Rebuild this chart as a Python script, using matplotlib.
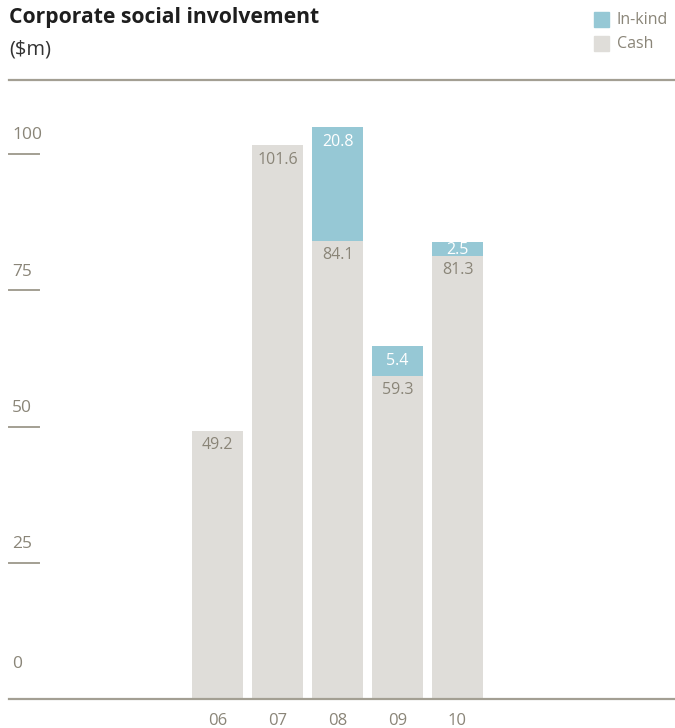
import matplotlib
matplotlib.use("Agg")
import matplotlib.pyplot as plt
from matplotlib.patches import Rectangle

years = ["06", "07", "08", "09", "10"]
cash = [49.2, 101.6, 84.1, 59.3, 81.3]
inkind = [0, 0, 20.8, 5.4, 2.5]
yticks = [0, 25, 50, 75, 100]

c_cash = "#dfddd9"
c_kind = "#96c8d5"
c_line = "#a39f93"
c_text = "#8a8578"

plt.rcParams["font.family"] = ["Open Sans", "DejaVu Sans"]

W, H = 675, 728
fig = plt.figure(figsize=(W / 100, H / 100), dpi=100)
ax = fig.add_axes([9 / W, 1 - 699 / H, 666 / W, (699 - 80) / H])
px_per_unit = 5.45
ax.set_ylim(0, (699 - 80) / px_per_unit)
ax.set_xlim(-3.475, -3.475 + 666 / 60)
ax.axis("off")

x = list(range(len(years)))
ax.bar(x, cash, width=0.85, color=c_cash, zorder=2)
ax.bar(x, inkind, bottom=cash, width=0.85, color=c_kind, zorder=2)

# baseline and top rule
ax.axhline(0, color=c_line, lw=1.6, zorder=3, clip_on=False)
ax.axhline(ax.get_ylim()[1], color=c_line, lw=1.6, zorder=3, clip_on=False)

# value labels
for i in x:
    ax.annotate(f"{cash[i]}", (i, cash[i]), xytext=(0, -10.5), textcoords="offset points",
                ha="center", va="center", fontsize=11.5, color=c_text, zorder=4)
    if inkind[i] > 0:
        top = cash[i] + inkind[i]
        seg_px = inkind[i] * px_per_unit
        off = min(15, seg_px / 2 + 1) * 0.72
        ax.annotate(f"{inkind[i]}", (i, top), xytext=(0, -off), textcoords="offset points",
                    ha="center", va="center", fontsize=11.5, color="white", zorder=4)
    ax.annotate(years[i], (i, 0), xytext=(0, -15.5), textcoords="offset points",
                ha="center", va="center", fontsize=12, color=c_text, annotation_clip=False)

# y labels with short rules
tr = ax.get_yaxis_transform()
for v in yticks:
    if v > 0:
        ax.plot([0, 30 / 666], [v, v], color=c_line, lw=1.4, transform=tr, clip_on=False)
        dy = 13.5
    else:
        dy = 25.5
    ax.annotate(str(v), (3 / 666, v), xycoords=tr, xytext=(0, dy), textcoords="offset points",
                ha="left", va="center", fontsize=12.5, color=c_text, annotation_clip=False)

# title
fig.text(9 / W, 1 - 18 / H, "Corporate social involvement", fontsize=15.2, fontweight="bold",
         color="#1e1e1e", va="center", ha="left")
fig.text(9 / W, 1 - 49 / H, "($m)", fontsize=14.5, color="#333333", va="center", ha="left")

# legend
for j, (lab, col) in enumerate([("In-kind", c_kind), ("Cash", c_cash)]):
    yc = 19.5 + 24 * j
    fig.add_artist(Rectangle((594 / W, 1 - (yc + 7.5) / H), 15 / W, 15 / H,
                             transform=fig.transFigure, color=col))
    fig.text(617 / W, 1 - yc / H, lab, fontsize=11.5, color=c_text, va="center", ha="left")

fig.savefig("out.png", dpi=100)
